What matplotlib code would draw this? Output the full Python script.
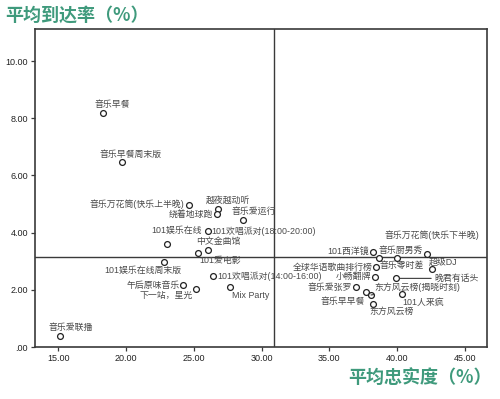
import matplotlib
matplotlib.use('Agg')
import matplotlib.pyplot as plt

# data: loyalty (x, %) and reach (y, %)
names = ['音乐早餐', '音乐早餐周末版', '音乐爱联播', '音乐万花筒(快乐上半晚)', '越夜越动听',
         '绕着地球跑', '音乐爱运行', '101娱乐在线', '101欢唱派对(18:00-20:00)', '中文金曲馆',
         '101爱电影', '101娱乐在线周末版', '101欢唱派对(14:00-16:00)', '午后原味音乐',
         '下一站，星光', 'Mix Party', '101西洋镜', '音乐零时差', '音乐厨男秀',
         '音乐万花筒(快乐下半晚)', '全球华语歌曲排行榜', '超级DJ', '小畅翻牌', '晚君有话头',
         '音乐爱张罗', '音乐早早餐', '东方风云榜(揭晓时刻)', '101人来疯', '东方风云榜']
loyalty = [18.28, 19.68, 15.13, 24.62, 26.81,
           26.74, 28.63, 23.00, 26.03, 26.05,
           25.31, 22.82, 26.44, 24.23,
           25.18, 27.67, 38.20, 38.65, 40.00,
           42.20, 38.47, 42.56, 38.37, 39.92,
           36.97, 37.72, 38.08, 40.34, 38.20]
reach = [8.17, 6.47, 0.40, 4.98, 4.81,
         4.64, 4.44, 3.61, 4.05, 3.38,
         3.29, 2.96, 2.47, 2.16,
         2.04, 2.09, 3.33, 3.10, 3.10,
         3.24, 2.79, 2.72, 2.46, 2.40,
         2.09, 1.91, 1.82, 1.85, 1.49]
mean_loyalty = 30.92
mean_reach = 3.16
xticks = [15, 20, 25, 30, 35, 40, 45]
yticks = [0, 2, 4, 6, 8, 10]

# label placement (pixel offsets from the point, alignment, leader line)
label_pos = [(10, 9, 'center'), (9, 8, 'center'), (11, 8, 'center'), (-4, 0, 'right'), (10, 9, 'center'),
             (-4, 0, 'right'), (11, 9, 'center'), (10, 13, 'center'), (4, 0, 'left'), (10, 9, 'center'),
             (22, -8, 'center'), (-21, -8, 'center'), (4, 0, 'left'), (-4, 0, 'right'),
             (-3, -7, 'right'), (2, -8, 'left'), (-4, 0, 'right'), (1, -7, 'left'), (4, 8, 'center'),
             (5, 19, 'center'), (-4, 0, 'right'), (11, 7, 'center'), (-4, 0, 'right'), (38, 0, 'left'),
             (-4, 0, 'right'), (-23, -9, 'center'), (46, 8, 'center'), (21, -8, 'center'), (19, -7, 'center')]
leaders = {'晚君有话头': (0.0, 0.5), '东方风云榜(揭晓时刻)': (0.23, 0.0)}

green = '#3f9a7c'
dark = '#3a3a3a'
label_font = ['Liberation Sans', 'Noto Sans CJK SC']

fig = plt.figure(figsize=(5, 3.99), dpi=100)
ax = fig.add_axes([0.07, 0.1303, 0.904, 0.797])

ax.axvline(mean_loyalty, color=dark, lw=1.0, zorder=1)
ax.axhline(mean_reach, color=dark, lw=1.0, zorder=1)
ax.plot(loyalty, reach, linestyle='none', marker='o', markersize=4.2,
        markerfacecolor='white', markeredgecolor='#222222', markeredgewidth=0.9, zorder=3)

for name, x, y, (dx, dy, ha) in zip(names, loyalty, reach, label_pos):
    arrow = None
    if name in leaders:
        arrow = dict(arrowstyle='-', color=dark, lw=0.8, shrinkA=0, shrinkB=3,
                     relpos=leaders[name])
    ax.annotate(name, (x, y), xytext=(dx, dy), textcoords='offset pixels',
                ha=ha, va='center', fontsize=6.4, color='#4a4a4a',
                family=label_font, arrowprops=arrow, zorder=4)

ax.set_xlim(13.28, 46.64)
ax.set_ylim(0, 11.12)
ax.set_xticks(xticks)
ax.set_yticks(yticks)
ax.set_xticklabels(['%.2f' % v for v in xticks])
ax.set_yticklabels([('%.2f' % v).lstrip('0') if v == 0 else '%.2f' % v for v in yticks])
ax.tick_params(length=3, width=0.9, color=dark, labelsize=6.5, labelcolor='#222222', pad=2)
for lab in ax.get_xticklabels() + ax.get_yticklabels():
    lab.set_family('Liberation Sans')
for sp in ax.spines.values():
    sp.set_color(dark)
    sp.set_linewidth(1.2)

fig.text(0.01, 1 - 15 / 399, '平均到达率（%）', color=green, fontsize=13, fontweight='bold',
         family=['Noto Sans CJK SC', 'DejaVu Sans'], ha='left', va='center')
fig.text(491.7 / 500, 1 - 377 / 399, '平均忠实度（%）', color=green, fontsize=13, fontweight='bold',
         family=['Noto Sans CJK SC', 'DejaVu Sans'], ha='right', va='center')

fig.savefig('out.png', dpi=100)
